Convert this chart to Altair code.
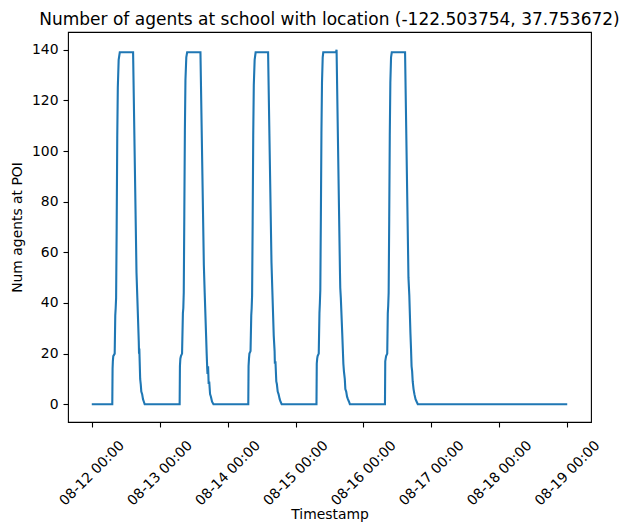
import altair as alt
import pandas as pd

# Tick labels (one per day starting 08-12 00:00)
day_labels = ["08-12 00:00", "08-13 00:00", "08-14 00:00", "08-15 00:00",
              "08-16 00:00", "08-17 00:00", "08-18 00:00", "08-19 00:00"]
y_ticks = [0, 20, 40, 60, 80, 100, 120, 140]

# Per-day readings: hour of day and number of agents
day0_hours = [0, 7.25, 7.35, 7.45, 7.6, 8.1, 8.3, 8.45, 8.6, 8.8, 9.0, 9.2, 9.5, 9.9,
              14.6, 15.8, 16.1, 16.6, 16.7, 16.8, 17.1, 17.3, 17.5, 17.8, 18.1, 18.4, 18.7]
day0_vals = [0, 0, 14, 17, 19, 20, 35, 38, 42, 70, 105, 125, 136, 139,
             139, 52, 42, 25, 20, 22, 10, 8, 5, 4, 2, 1, 0]

day1_hours = [7.05, 7.15, 7.3, 7.5, 7.9, 8.2, 8.35, 8.5, 8.7, 8.9, 9.1, 9.4, 9.7,
              14.4, 15.6, 15.9, 16.4, 16.6, 16.8, 16.9, 17.1, 17.3, 17.5, 17.8, 18.1, 18.5, 19.0]
day1_vals = [0, 15, 18, 19, 20, 36, 38, 44, 75, 108, 128, 137, 139,
             139, 55, 44, 27, 20, 14, 12, 15, 8, 9, 4, 3, 1, 0]

day2_hours = [7.3, 7.4, 7.55, 7.7, 8.1, 8.35, 8.5, 8.65, 8.85, 9.05, 9.25, 9.55, 9.9,
              14.3, 15.5, 15.8, 16.3, 16.6, 16.7, 16.9, 17.2, 17.4, 17.7, 18.0, 18.4, 18.7, 19.1]
day2_vals = [0, 15, 18, 20, 21, 35, 38, 43, 72, 106, 126, 136, 139,
             139, 56, 45, 27, 21, 16, 17, 9, 8, 5, 4, 2, 1, 0]

day3_hours = [7.4, 7.5, 7.65, 7.8, 8.2, 8.45, 8.6, 8.75, 8.95, 9.15, 9.35, 9.6, 9.8,
              14.3, 14.5, 15.7, 15.8, 16.0, 16.5, 16.7, 16.9, 17.1, 17.4, 17.6, 17.9, 18.2, 18.5, 18.9, 19.2]
day3_vals = [0, 16, 18, 19, 20, 36, 40, 45, 74, 107, 127, 137, 139,
             139, 140, 52, 46, 42, 28, 22, 16, 13, 10, 6, 5, 3, 2, 1, 0]

day4_hours = [7.6, 7.7, 7.85, 8.0, 8.4, 8.6, 8.75, 8.9, 9.1, 9.3, 9.5, 9.75, 10.0,
              14.7, 15.9, 16.2, 16.6, 16.8, 17.0, 17.2, 17.4, 17.7, 18.0, 18.4, 18.8, 19.2]
day4_vals = [0, 17, 18, 19, 20, 36, 39, 44, 73, 106, 127, 137, 139,
             139, 50, 43, 28, 22, 15, 13, 9, 6, 4, 2, 1, 0]

end_hours = [0]
end_vals = [0]

days = [(0, day0_hours, day0_vals), (1, day1_hours, day1_vals), (2, day2_hours, day2_vals),
        (3, day3_hours, day3_vals), (4, day4_hours, day4_vals), (7, end_hours, end_vals)]

rows = []
for d, hrs, vals in days:
    for h, v in zip(hrs, vals):
        rows.append({"t": d + h / 24.0, "n": v})
df = pd.DataFrame(rows)

label_array = "[" + ",".join("'" + s + "'" for s in day_labels) + "]"

FONT = "DejaVu Sans"

chart = alt.Chart(df).mark_line(color="#1f77b4", strokeWidth=2.1, clip=True).encode(
    x=alt.X("t:Q",
            scale=alt.Scale(domain=[-0.35, 7.35], nice=False, zero=False),
            axis=alt.Axis(values=list(range(len(day_labels))),
                          labelExpr=label_array + "[datum.value]",
                          title="Timestamp",
                          labelAngle=315, labelAlign="center", labelBaseline="middle",
                          labelPadding=46, tickSize=5, tickWidth=1.1, tickColor="black",
                          domain=False, grid=False,
                          labelFont=FONT, labelFontSize=13.9, labelColor="black",
                          titleFont=FONT, titleFontSize=13.9, titleFontWeight="normal",
                          titleColor="black", titleY=96, titleBaseline="alphabetic",
                          labelOverlap=False, labelFlush=False)),
    y=alt.Y("n:Q",
            scale=alt.Scale(domain=[-7, 147], nice=False, zero=False),
            axis=alt.Axis(values=y_ticks, title="Num agents at POI",
                          tickSize=5, tickWidth=1.1, tickColor="black", labelPadding=5,
                          domain=False, grid=False,
                          labelFont=FONT, labelFontSize=13.9, labelColor="black",
                          titleFont=FONT, titleFontSize=13.9, titleFontWeight="normal",
                          titleColor="black", titleAngle=270, titleX=-47,
                          titleY=195, titleAlign="center", titleBaseline="alphabetic",
                          labelOverlap=False, labelFlush=False)),
).properties(
    width=523, height=390,
    padding={"left": 60, "top": 24, "right": 30, "bottom": 100},
    autosize=alt.AutoSizeParams(type="none"),
    title=alt.TitleParams(
        "Number of agents at school with location (-122.503754, 37.753672)",
        font=FONT, fontSize=17.0, fontWeight="normal", color="black",
        anchor="middle", frame="group", baseline="alphabetic", offset=8.5, dy=18),
).configure_view(stroke="black", strokeWidth=1.1)

chart.save("out.html", embed_options={"renderer": "svg", "actions": False})
